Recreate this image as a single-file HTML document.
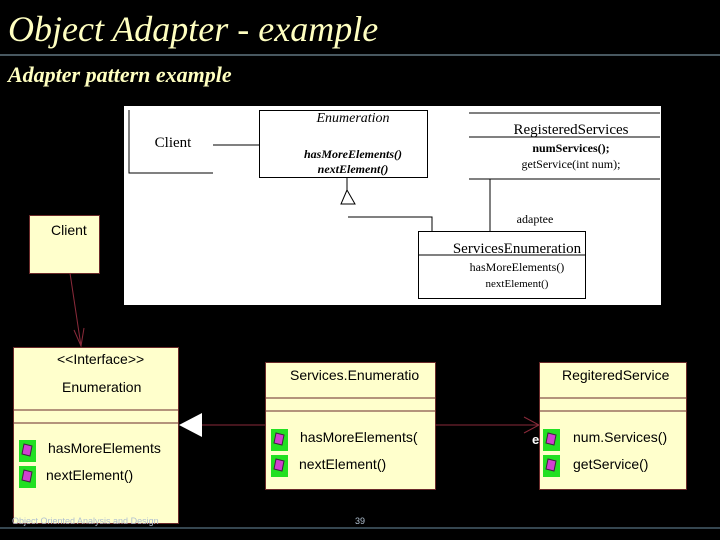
<!DOCTYPE html>
<html><head><meta charset="utf-8"><style>
html,body{margin:0;padding:0;background:#000;width:720px;height:540px;overflow:hidden}
svg{display:block}
</style></head><body>
<svg width="720" height="540" viewBox="0 0 720 540" xmlns="http://www.w3.org/2000/svg">
<rect width="720" height="540" fill="#000"/>
<text x="8" y="41" font-family="Liberation Serif, serif" font-style="italic" font-size="36" fill="#ffffc0">Object Adapter  -  example</text>
<line x1="0" y1="55" x2="720" y2="55" stroke="#8fb0c0" stroke-width="1"/>
<text x="8" y="82" font-family="Liberation Serif, serif" font-style="italic" font-weight="bold" font-size="22" fill="#ffffc0">Adapter pattern example</text>

<!-- white image -->
<rect x="124" y="106" width="537" height="199" fill="#fff"/>
<g stroke="#000" stroke-width="1" fill="none">
<polyline points="129,110 129,173 213,173"/>
<line x1="213" y1="145" x2="259" y2="145"/>
<rect x="259.5" y="110.5" width="168" height="67"/>
<line x1="347" y1="177" x2="347" y2="190"/>
<polygon points="347,190 341,204 355,204"/>
<polyline points="348,217 432,217 432,232"/>
<line x1="469" y1="113" x2="660" y2="113"/>
<line x1="469" y1="137" x2="660" y2="137"/>
<line x1="469" y1="179" x2="660" y2="179"/>
<line x1="490" y1="179" x2="490" y2="232"/>
<rect x="418.5" y="231.5" width="167" height="67"/>
<line x1="418" y1="255" x2="585" y2="255"/>
</g>
<g font-family="Liberation Serif, serif" fill="#000" text-anchor="middle">
<text x="173" y="147" font-size="15">Client</text>
<text x="353" y="122" font-size="14" font-style="italic">Enumeration</text>
<text x="353" y="158" font-size="12" font-style="italic" font-weight="bold">hasMoreElements()</text>
<text x="353" y="173" font-size="12" font-style="italic" font-weight="bold">nextElement()</text>
<text x="571" y="134" font-size="15">RegisteredServices</text>
<text x="571" y="152" font-size="12" font-weight="bold">numServices();</text>
<text x="571" y="168" font-size="12">getService(int num);</text>
<text x="535" y="223" font-size="12">adaptee</text>
<text x="517" y="253" font-size="15">ServicesEnumeration</text>
<text x="517" y="271" font-size="12">hasMoreElements()</text>
<text x="517" y="287" font-size="11">nextElement()</text>
</g>

<!-- client -->
<rect x="29.5" y="215.5" width="70" height="58" fill="#ffffcc" stroke="#6a2a2a"/>
<text x="51" y="235" font-family="Liberation Sans, sans-serif" font-size="14" fill="#000">Client</text>
<line x1="70" y1="273" x2="81" y2="346" stroke="#8a2a3a"/>
<polyline points="74,330 81,346 84,328" fill="none" stroke="#8a2a3a"/>

<!-- Enumeration interface -->
<rect x="13.5" y="347.5" width="165" height="176" fill="#ffffcc" stroke="#6a2a2a"/>
<line x1="13" y1="410" x2="178" y2="410" stroke="#6a2a2a"/>
<line x1="13" y1="423" x2="178" y2="423" stroke="#6a2a2a"/>
<g font-family="Liberation Sans, sans-serif" font-size="14" fill="#000">
<text x="57" y="364">&lt;&lt;Interface&gt;&gt;</text>
<text x="62" y="392">Enumeration</text>
<text x="48" y="453">hasMoreElements</text>
<text x="46" y="480">nextElement()</text>
</g>
<rect x="19" y="440" width="17" height="22" fill="#22e022"/>
<rect x="19" y="466" width="17" height="22" fill="#22e022"/>

<!-- generalization -->
<line x1="202" y1="425" x2="265" y2="425" stroke="#8a2a3a"/>
<polygon points="179,425 202,413 202,437" fill="#fff"/>

<!-- ServicesEnumeration -->
<rect x="265.5" y="362.5" width="170" height="127" fill="#ffffcc" stroke="#6a2a2a"/>
<line x1="265" y1="398" x2="435" y2="398" stroke="#6a2a2a"/>
<line x1="265" y1="411" x2="435" y2="411" stroke="#6a2a2a"/>
<g font-family="Liberation Sans, sans-serif" font-size="14" fill="#000">
<text x="290" y="380">Services.Enumeratio</text>
<text x="300" y="442">hasMoreElements(</text>
<text x="299" y="469">nextElement()</text>
</g>
<rect x="271" y="429" width="17" height="22" fill="#22e022"/>
<rect x="271" y="455" width="17" height="22" fill="#22e022"/>

<!-- association -->
<line x1="435" y1="425" x2="539" y2="425" stroke="#8a2a3a"/>
<polyline points="524,417 539,425 524,433" fill="none" stroke="#8a2a3a"/>

<!-- RegiteredService -->
<rect x="539.5" y="362.5" width="147" height="127" fill="#ffffcc" stroke="#6a2a2a"/>
<line x1="539" y1="398" x2="686" y2="398" stroke="#6a2a2a"/>
<line x1="539" y1="411" x2="686" y2="411" stroke="#6a2a2a"/>
<g font-family="Liberation Sans, sans-serif" font-size="14" fill="#000">
<text x="562" y="380">RegiteredService</text>
<text x="573" y="442">num.Services()</text>
<text x="573" y="469">getService()</text>
</g>
<text x="532" y="444" font-family="Liberation Sans, sans-serif" font-size="13" fill="#fff" font-weight="bold">e</text>
<rect x="543" y="429" width="17" height="22" fill="#22e022"/>
<rect x="543" y="455" width="17" height="22" fill="#22e022"/>
<g fill="#d040d0" stroke="#402040" stroke-width="1">
<polygon points="24,444 32,446 30,456 22,454"/>
<polygon points="24,470 32,472 30,482 22,480"/>
<polygon points="276,433 284,435 282,445 274,443"/>
<polygon points="276,459 284,461 282,471 274,469"/>
<polygon points="548,433 556,435 554,445 546,443"/>
<polygon points="548,459 556,461 554,471 546,469"/>
</g>

<!-- footer -->
<text x="12" y="524" font-family="Liberation Sans, sans-serif" font-size="9" fill="#b0c0d0">Object Oriented Analysis and Design</text>
<text x="355" y="524" font-family="Liberation Sans, sans-serif" font-size="9" fill="#b0c0d0">39</text>
<line x1="0" y1="528" x2="720" y2="528" stroke="#6a8ca0" stroke-width="1"/>
</svg>
</body></html>
